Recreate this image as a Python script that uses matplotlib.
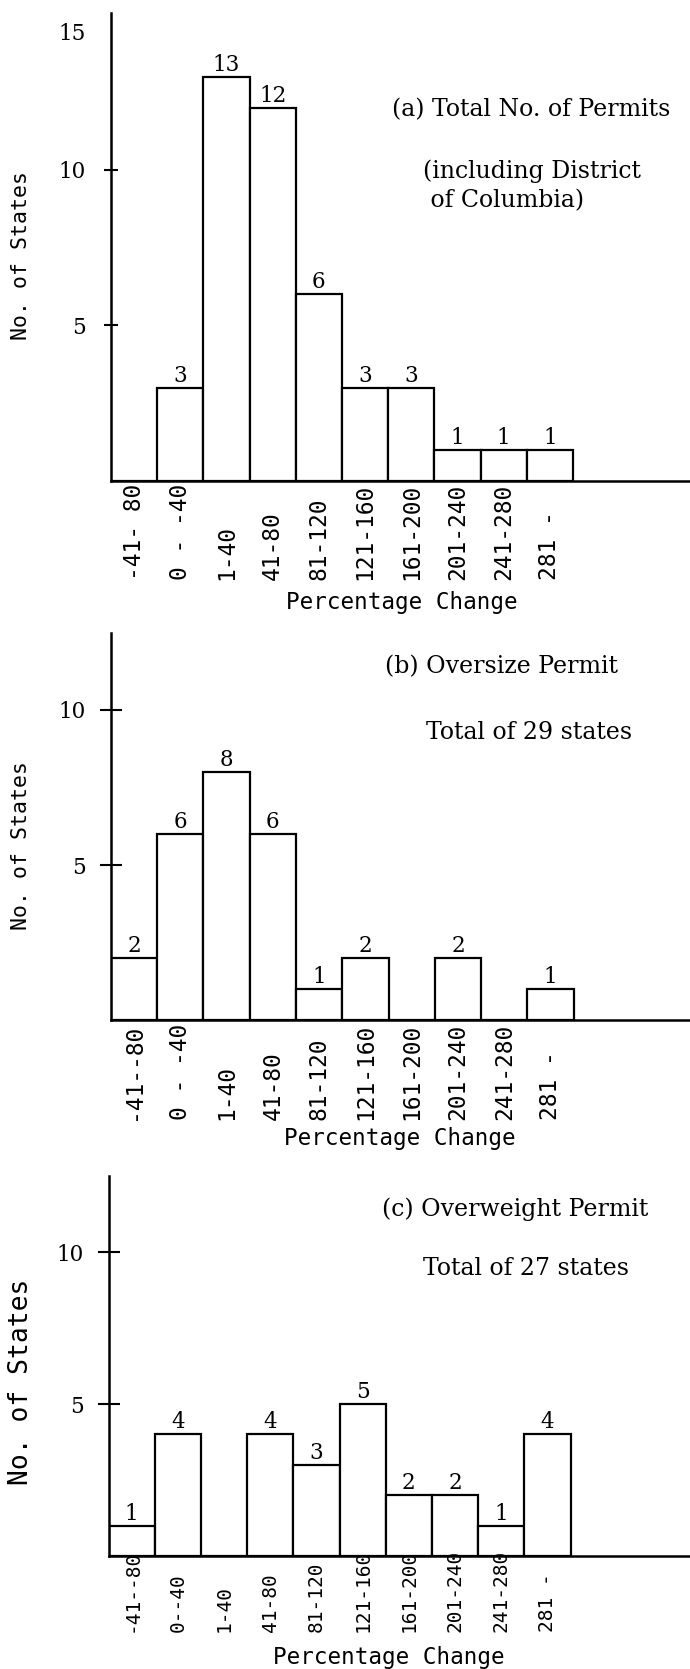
import matplotlib
matplotlib.use("Agg")
from matplotlib import pyplot as plt

# Data
labels_a = ["-41- 80", "0 - -40", "1-40", "41-80", "81-120", "121-160",
            "161-200", "201-240", "241-280", "281 -"]
counts_a = [0, 3, 13, 12, 6, 3, 3, 1, 1, 1]

labels_b = ["-41--80", "0 - -40", "1-40", "41-80", "81-120", "121-160",
            "161-200", "201-240", "241-280", "281 -"]
counts_b = [2, 6, 8, 6, 1, 2, 0, 2, 0, 1]

labels_c = ["-41--80", "0--40", "1-40", "41-80", "81-120", "121-160",
            "161-200", "201-240", "241-280", "281 -"]
counts_c = [1, 4, 0, 4, 3, 5, 2, 2, 1, 4]

notes_a = ["(a) Total No. of Permits", "(including District", " of Columbia)"]
notes_b = ["(b) Oversize Permit", "Total of 29 states"]
notes_c = ["(c) Overweight Permit", "Total of 27 states"]

W, H = 690, 1669
SERIF = "DejaVu Serif"
MONO = "DejaVu Sans Mono"

fig = plt.figure(figsize=(W / 100, H / 100), dpi=100)


def draw_panel(counts, labels, notes, left, base, unit, ymax, bar_px,
               lab_off, lab_size, xlab_pos, ylab_y, ylab_size, tick_len,
               note_pos, extra15=False):
    rect = [left / W, 1 - base / H, (W - left) / W, ymax * unit / H]
    ax = fig.add_axes(rect)
    ax.set_facecolor("none")
    x = list(range(len(counts)))
    ax.bar(x, counts, width=1.0, align="edge", color="white",
           edgecolor="black", linewidth=1.6, zorder=1)
    ax.set_xlim(0, (W - left) / bar_px)
    ax.set_ylim(0, ymax)

    for s in ["top", "right"]:
        ax.spines[s].set_visible(False)
    for s in ["left", "bottom"]:
        ax.spines[s].set_linewidth(1.8)
        ax.spines[s].set_zorder(3)

    ticks = [5, 10]
    tlabels = ["5", "10"]
    if extra15:
        ticks.append(14.45)
        tlabels.append("15")
    ax.set_yticks(ticks)
    ax.set_yticklabels(tlabels, fontfamily=SERIF, fontsize=15.5)
    ax.tick_params(axis="y", direction="inout", length=tick_len, width=1.5,
                   pad=14 - tick_len / 2 + 4)
    if extra15:
        ax.yaxis.get_major_ticks()[2].tick1line.set_visible(False)
    ax.set_xticks([])

    # bar counts
    for xi, v in zip(x, counts):
        if v > 0:
            ax.annotate(str(v), xy=(xi + 0.5, v), xytext=(0, 1),
                        textcoords="offset pixels", ha="center", va="bottom",
                        fontfamily=SERIF, fontsize=15.5)

    # category labels, typed vertically under each bar
    for xi, lab in zip(x, labels):
        ax.annotate(lab, xy=(xi + 0.5, 0), xycoords=("data", "axes fraction"),
                    xytext=(0, -lab_off), textcoords="offset pixels",
                    rotation=90, ha="center", va="bottom",
                    fontfamily=MONO, fontsize=lab_size, zorder=2)

    fig.text(xlab_pos[0] / W, 1 - xlab_pos[1] / H, "Percentage Change",
             ha="center", va="center", fontfamily=MONO, fontsize=16.3)
    fig.text(21 / W, 1 - ylab_y / H, "No. of States", rotation=90,
             ha="center", va="center", fontfamily=MONO, fontsize=ylab_size)

    for txt, (px, py) in zip(notes, note_pos):
        fig.text(px / W, 1 - py / H, txt, ha="left", va="center",
                 fontfamily=SERIF, fontsize=17)
    return ax


draw_panel(counts_a, labels_a, notes_a, left=111, base=481, unit=31.1,
           ymax=15.05, bar_px=46.2, lab_off=99, lab_size=16.5,
           xlab_pos=(402, 602), ylab_y=255, ylab_size=15.5, tick_len=10,
           note_pos=[(392, 110), (423, 171), (423, 201)], extra15=True)

draw_panel(counts_b, labels_b, notes_b, left=110.8, base=1020, unit=31.0,
           ymax=12.47, bar_px=46.3, lab_off=100, lab_size=16.5,
           xlab_pos=(400, 1138), ylab_y=846, ylab_size=15.5, tick_len=16,
           note_pos=[(385, 667), (426, 732)])

draw_panel(counts_c, labels_c, notes_c, left=108.6, base=1556, unit=30.4,
           ymax=12.5, bar_px=46.2, lab_off=76, lab_size=14,
           xlab_pos=(389, 1657), ylab_y=1382, ylab_size=19, tick_len=16,
           note_pos=[(382, 1209), (423, 1268)])

fig.savefig("out.png", dpi=100, facecolor="white")
